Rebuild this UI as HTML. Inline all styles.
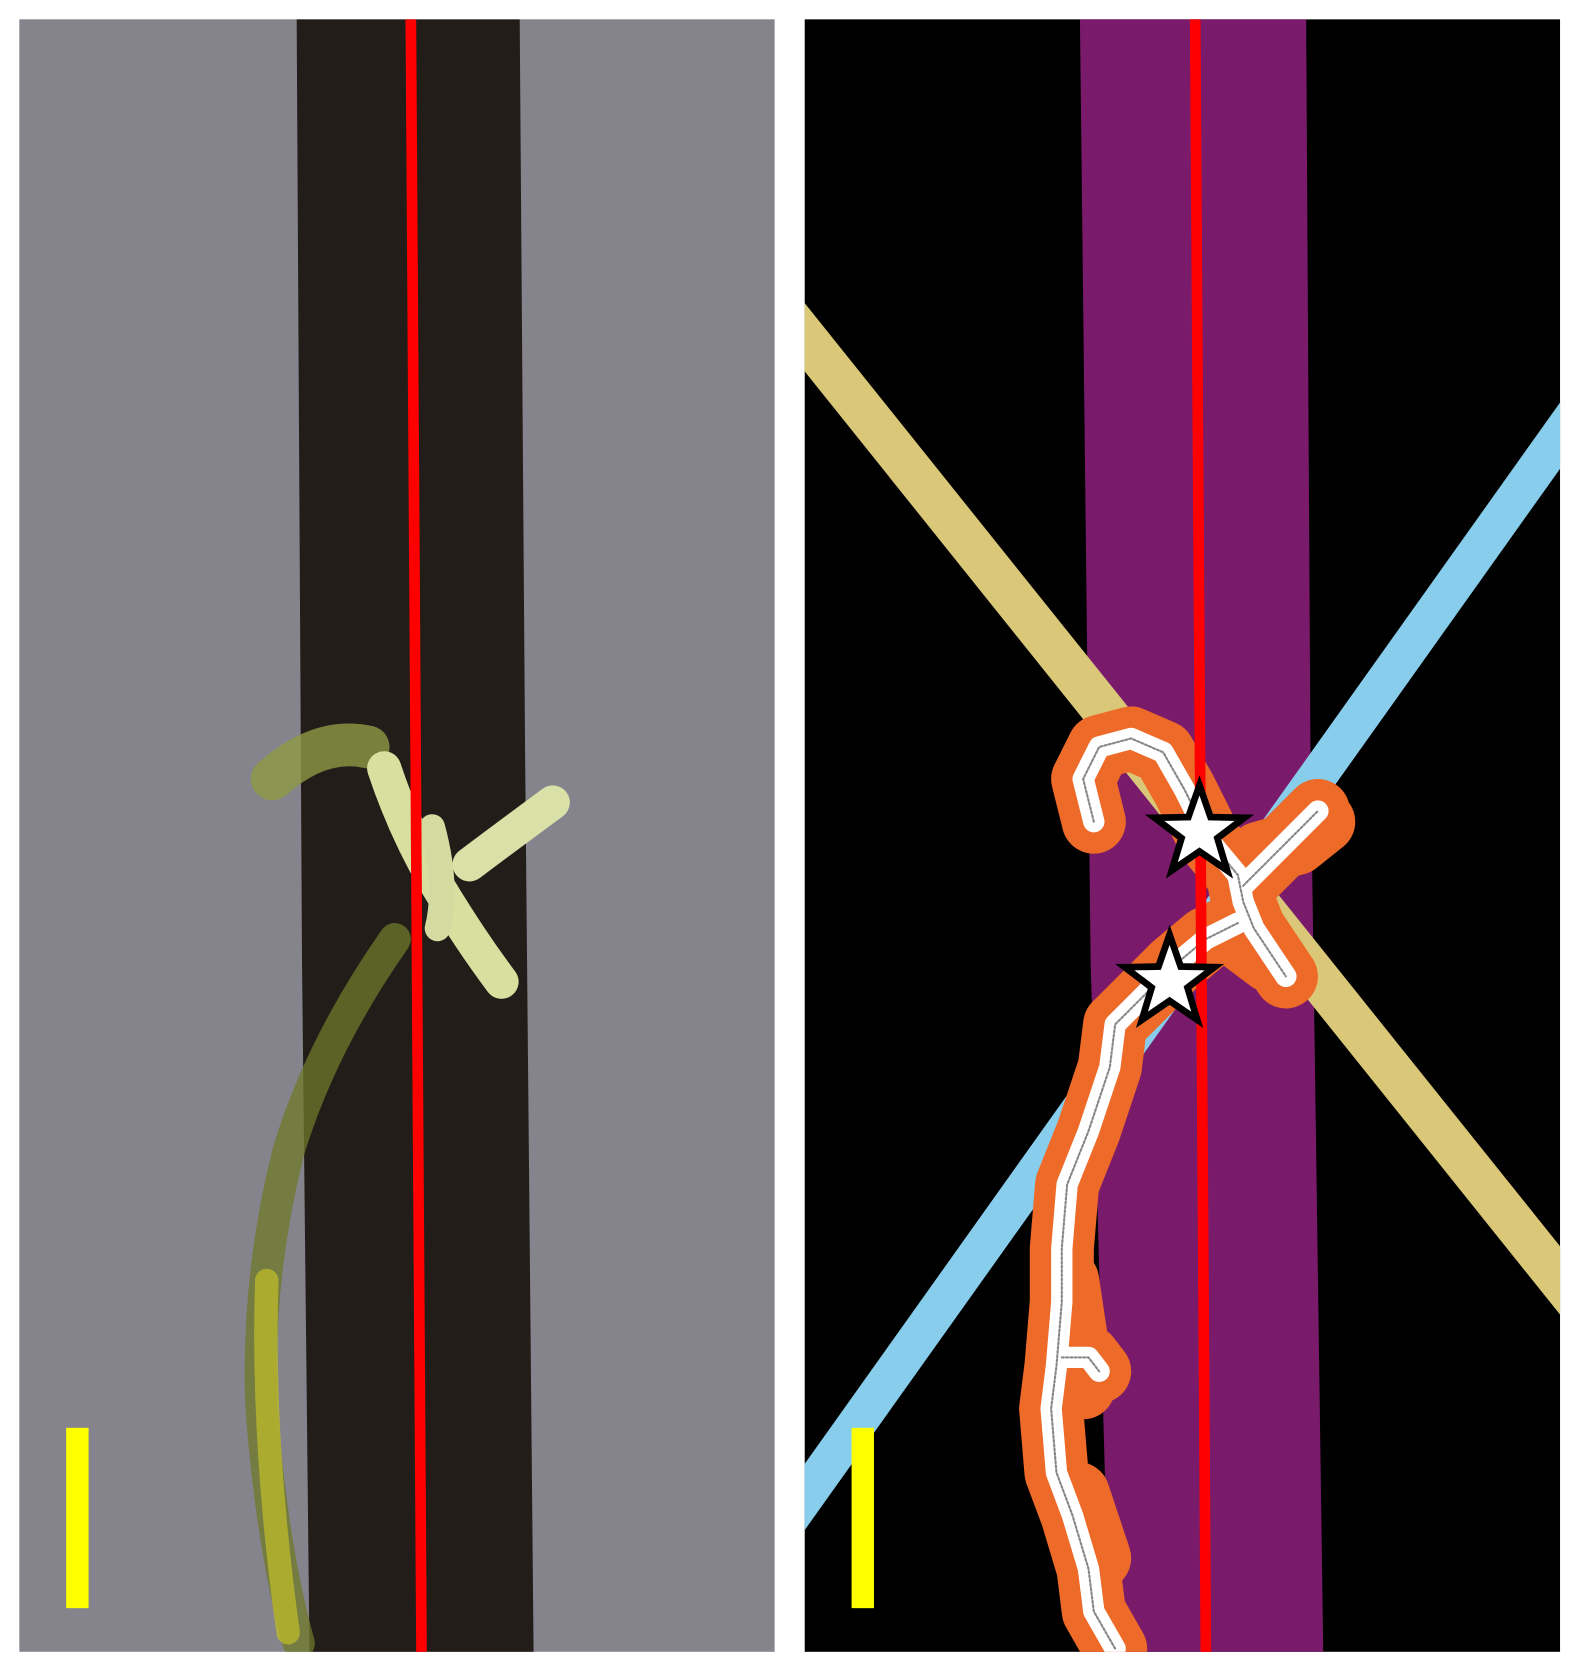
<!DOCTYPE html>
<html><head><meta charset="utf-8"><style>html,body{margin:0;padding:0;background:#fff}svg{display:block}</style></head>
<body>
<svg width="1580" height="1674" viewBox="0 0 1480.6 1568.7" xmlns="http://www.w3.org/2000/svg">
<defs>
<clipPath id="cl"><rect x="18" y="18" width="708" height="1530"/></clipPath>
<clipPath id="cr"><rect x="754" y="18" width="708" height="1530"/></clipPath>
</defs>
<g clip-path="url(#cl)">
<rect x="18" y="18" width="708" height="1530" fill="#85838c"/>
<polygon points="278,18 487,18 492,700 500,1548 290,1548 283,900" fill="#231d19"/>
<g stroke-linecap="round" fill="none">
<path d="M255,730 Q300,690 345,700" stroke="#8f9a45" stroke-width="40" opacity="0.8"/>
<path d="M360,720 Q380,780 410,830 Q440,880 470,920" stroke="#d8e0a0" stroke-width="32"/>
<path d="M405,775 Q420,830 410,870" stroke="#d4dba0" stroke-width="24"/>
<path d="M440,810 Q480,780 518,752" stroke="#d9e0a8" stroke-width="32"/>
<path d="M370,880 Q300,980 270,1080 Q240,1200 245,1320 Q255,1450 280,1540" stroke="#6f7a2a" stroke-width="30" opacity="0.75"/>
<path d="M250,1200 Q245,1350 270,1530" stroke="#b9b82a" stroke-width="22" opacity="0.8"/>
</g>
<line x1="385" y1="18" x2="395" y2="1548" stroke="#ff0000" stroke-width="10"/>
<rect x="62" y="1338" width="21" height="169" fill="#ffff00"/>
</g>
<g clip-path="url(#cr)">
<rect x="754" y="18" width="708" height="1530" fill="#000"/>
<polygon points="1012,18 1224,18 1228,700 1240,1548 1040,1548 1022,900" fill="#791a6b"/>
<line x1="734" y1="291" x2="1482" y2="1225" stroke="#dac878" stroke-width="40"/>
<line x1="734" y1="1431" x2="1482" y2="380" stroke="#88ceec" stroke-width="36"/>
<g fill="none" stroke-linecap="round" stroke-linejoin="round">
<g stroke="#ee6a28" stroke-width="60">
<path id="r1" d="M1025,770 L1015,730 L1030,700 L1060,692 L1090,705 L1110,740 L1135,790 L1160,820 L1165,845 L1175,870 L1205,915"/>
<path id="r2" d="M1165,830 L1200,795 L1235,760"/>
<path id="r3" d="M1160,865 L1130,880 L1100,905 L1070,935 L1045,960 L1040,1000 L1020,1060 L1000,1110 L995,1170 L995,1220 L990,1280 L985,1320 L990,1380 L1005,1420 L1020,1470 L1025,1510 L1045,1545"/>
<path id="r4" d="M995,1272 L1020,1272 L1030,1285"/>
<path d="M1180,800 L1215,790 L1240,770 M1150,870 L1190,900 M1000,1200 L1015,1300 M1010,1400 L1030,1460"/>
</g>
<g stroke="#ffffff" stroke-width="20">
<use href="#r1"/><use href="#r2"/><use href="#r3"/><use href="#r4"/>
</g>
<g stroke="#888" stroke-width="2" stroke-dasharray="2,2">
<use href="#r1"/><use href="#r2"/><use href="#r3"/><use href="#r4"/>
</g>
</g>
<line x1="1120" y1="18" x2="1130" y2="1548" stroke="#ff0000" stroke-width="10"/>
<polygon transform="translate(1124,780) scale(1.05)" points="0,-42 9.9,-13.6 40,-13 16,5.2 24.7,34 0,17 -24.7,34 -16,5.2 -40,-13 -9.9,-13.6" fill="#fff" stroke="#000" stroke-width="6"/>
<polygon transform="translate(1096,920) scale(1.05)" points="0,-42 9.9,-13.6 40,-13 16,5.2 24.7,34 0,17 -24.7,34 -16,5.2 -40,-13 -9.9,-13.6" fill="#fff" stroke="#000" stroke-width="6"/>
<rect x="798" y="1338" width="21" height="169" fill="#ffff00"/>
</g>
</svg>
</body></html>
